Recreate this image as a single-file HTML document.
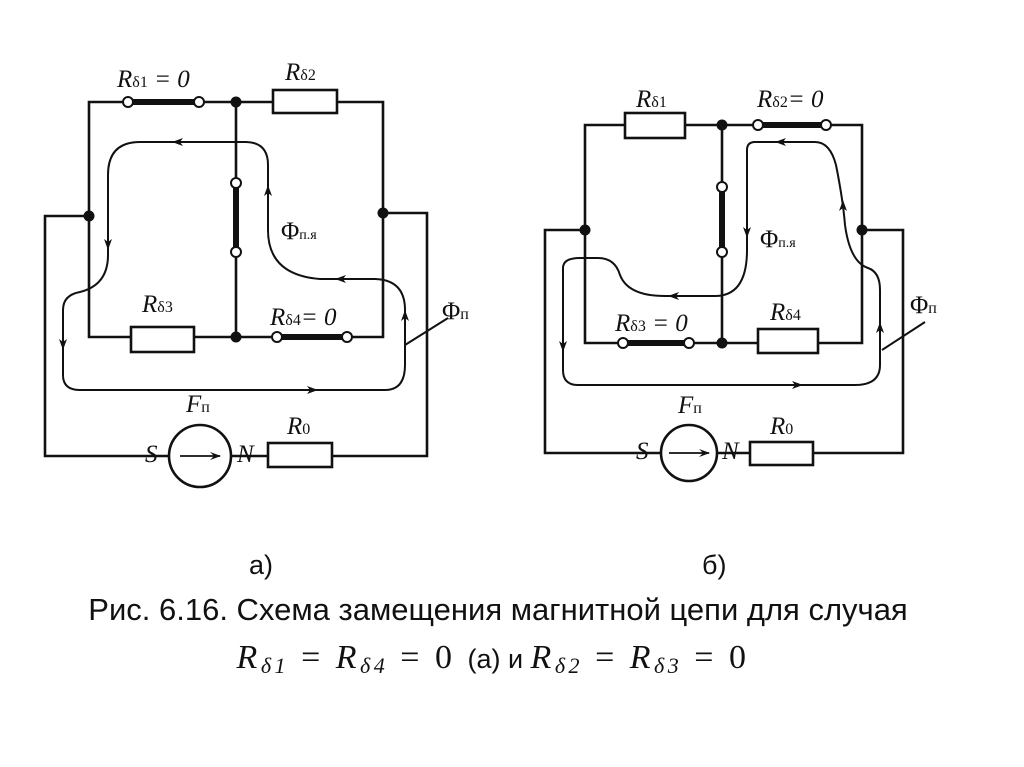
<!DOCTYPE html>
<html><head><meta charset="utf-8"><style>
body{margin:0;background:#fff;width:1024px;height:767px;overflow:hidden}
svg{position:absolute;left:0;top:0}
.t{font-family:"Liberation Serif",serif;font-style:italic;fill:#111}
.c{font-family:"Liberation Sans","DejaVu Sans",sans-serif;fill:#111}
</style></head><body>
<svg width="1024" height="767" viewBox="0 0 1024 767">
<defs>
<marker id="a" markerWidth="12" markerHeight="8" refX="10" refY="4" orient="auto" markerUnits="userSpaceOnUse"><path d="M0,0 L11,4 L0,8 L4,4 Z" fill="#111"/></marker>
</defs>
<g stroke="#111" stroke-width="2.6" fill="none">
<path d="M89,102 H383 V337 H89 Z"/>
<path d="M236,102 V337"/>
<path d="M89,216 H45 V456 H169 M231,456 H427 V213 H383"/>
<rect x="273" y="90" width="64" height="23" fill="#fff"/>
<rect x="131" y="327" width="63" height="25" fill="#fff"/>
<rect x="268" y="443" width="64" height="24" fill="#fff"/>
<circle cx="200" cy="456" r="31" fill="#fff"/>
<path d="M180,456 H220" marker-end="url(#a)" stroke-width="1.8"/>
<path d="M128,102 H199 M236,183 V252 M277,337 H347" stroke-width="6"/>
<g fill="#fff" stroke-width="2">
<circle cx="128" cy="102" r="5"/><circle cx="199" cy="102" r="5"/>
<circle cx="236" cy="183" r="5"/><circle cx="236" cy="252" r="5"/>
<circle cx="277" cy="337" r="5"/><circle cx="347" cy="337" r="5"/>
</g>
<g stroke-width="2">
<path d="M268,230 V165 Q268,142 245,142 H140 Q108,142 108,175 V255 Q108,285 80,292 Q63,295 63,310 V375 Q63,390 80,390 H385 Q405,390 405,365 V310 Q405,280 375,279 H320 Q268,275 268,230"/>
<path d="M405,345 L448,318"/>
</g>
<path d="M585,125 H862 V343 H585 Z"/>
<path d="M722,125 V343"/>
<path d="M585,230 H545 V453 H661 M717,453 H903 V230 H862"/>
<rect x="625" y="113" width="60" height="25" fill="#fff"/>
<rect x="758" y="329" width="60" height="24" fill="#fff"/>
<rect x="750" y="442" width="63" height="23" fill="#fff"/>
<circle cx="689" cy="453" r="28" fill="#fff"/>
<path d="M669,453 H709" marker-end="url(#a)" stroke-width="1.8"/>
<path d="M758,125 H826 M722,187 V252 M623,343 H689" stroke-width="6"/>
<g fill="#fff" stroke-width="2">
<circle cx="758" cy="125" r="5"/><circle cx="826" cy="125" r="5"/>
<circle cx="722" cy="187" r="5"/><circle cx="722" cy="252" r="5"/>
<circle cx="623" cy="343" r="5"/><circle cx="689" cy="343" r="5"/>
</g>
<g stroke-width="2">
<path d="M747,250 V150 Q747,142 755,142 H815 Q830,142 836,165 Q843,200 845,225 Q850,262 868,268 Q880,272 880,290 V365 Q880,385 855,385 H578 Q563,385 563,370 V268 Q563,258 580,258 H598 Q615,258 620,275 Q628,296 665,296 H715 Q747,296 747,250"/>
<path d="M882,350 L925,322"/>
</g>
</g>
<g fill="#111">
<circle cx="236" cy="102" r="5.5"/><circle cx="89" cy="216" r="5.5"/><circle cx="383" cy="213" r="5.5"/><circle cx="236" cy="337" r="5.5"/>
<circle cx="722" cy="125" r="5.5"/><circle cx="585" cy="230" r="5.5"/><circle cx="862" cy="230" r="5.5"/><circle cx="722" cy="343" r="5.5"/>
<path d="M172,142 l11,-4 l-3,4 l3,4z"/>
<path d="M108,250 l-4,-11 l4,3 l4,-3z"/>
<path d="M63,350 l-4,-11 l4,3 l4,-3z"/>
<path d="M318,390 l-11,-4 l3,4 l-3,4z"/>
<path d="M405,310 l-4,11 l4,-3 l4,3z"/>
<path d="M335,279 l11,-4 l-3,4 l3,4z"/>
<path d="M268,185 l-4,11 l4,-3 l4,3z"/>
<path d="M775,142 l11,-4 l-3,4 l3,4z"/>
<path d="M843,200 l-4,11 l4,-3 l4,3z"/>
<path d="M880,322 l-4,11 l4,-3 l4,3z"/>
<path d="M803,385 l-11,-4 l3,4 l-3,4z"/>
<path d="M563,352 l-4,-11 l4,3 l4,-3z"/>
<path d="M668,296 l11,-4 l-3,4 l3,4z"/>
<path d="M747,238 l-4,-11 l4,3 l4,-3z"/>
</g>
<g class="t" font-size="25">
<text x="117" y="87">R<tspan font-size="16" font-style="normal">δ1</tspan> = 0</text>
<text x="285" y="80">R<tspan font-size="16" font-style="normal">δ2</tspan></text>
<text x="142" y="312">R<tspan font-size="16" font-style="normal">δ3</tspan></text>
<text x="270" y="325">R<tspan font-size="16" font-style="normal">δ4</tspan>= 0</text>
<text x="281" y="239" font-style="normal">Φ<tspan font-size="14">п.я</tspan></text>
<text x="442" y="319" font-style="normal">Φ<tspan font-size="16">п</tspan></text>
<text x="186" y="412">F<tspan font-size="16" font-style="normal">п</tspan></text>
<text x="145" y="462">S</text><text x="237" y="462">N</text>
<text x="287" y="434">R<tspan font-size="16" font-style="normal">0</tspan></text>
<text x="636" y="107">R<tspan font-size="16" font-style="normal">δ1</tspan></text>
<text x="757" y="107">R<tspan font-size="16" font-style="normal">δ2</tspan>= 0</text>
<text x="615" y="331">R<tspan font-size="16" font-style="normal">δ3</tspan> = 0</text>
<text x="770" y="320">R<tspan font-size="16" font-style="normal">δ4</tspan></text>
<text x="760" y="247" font-style="normal">Φ<tspan font-size="14">п.я</tspan></text>
<text x="910" y="313" font-style="normal">Φ<tspan font-size="16">п</tspan></text>
<text x="678" y="413">F<tspan font-size="16" font-style="normal">п</tspan></text>
<text x="636" y="459">S</text><text x="722" y="459">N</text>
<text x="770" y="434">R<tspan font-size="16" font-style="normal">0</tspan></text>
</g>
<g class="c" font-size="27">
<text x="249" y="574">а)</text>
<text x="702" y="574">б)</text>
<text x="498" y="620" text-anchor="middle" font-size="31">Рис. 6.16. Схема замещения магнитной цепи для случая</text>
</g>
<text x="493" y="668" text-anchor="middle" letter-spacing="3.5" font-size="34" font-family="Liberation Serif,serif" fill="#111"><tspan font-style="italic">R</tspan><tspan font-size="22" font-style="italic" dy="5">δ1</tspan><tspan dy="-5"> = </tspan><tspan font-style="italic">R</tspan><tspan font-size="22" font-style="italic" dy="5">δ4</tspan><tspan dy="-5"> = 0 </tspan><tspan font-family="Liberation Sans,sans-serif" font-size="27" letter-spacing="0">(а) и </tspan><tspan font-style="italic">R</tspan><tspan font-size="22" font-style="italic" dy="5">δ2</tspan><tspan dy="-5"> = </tspan><tspan font-style="italic">R</tspan><tspan font-size="22" font-style="italic" dy="5">δ3</tspan><tspan dy="-5"> = 0</tspan></text>
</svg>
</body></html>
